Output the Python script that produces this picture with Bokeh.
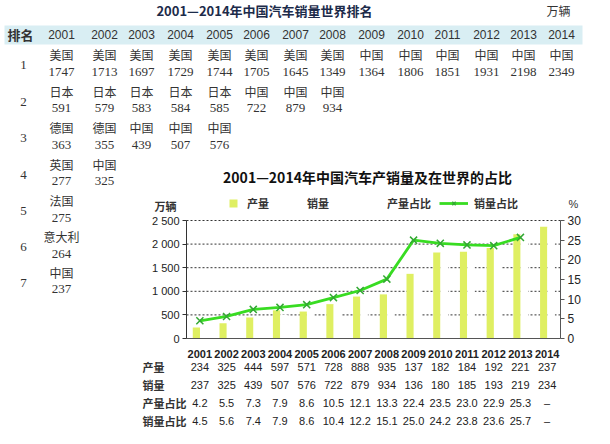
from bokeh.plotting import figure
from bokeh.models import (ColumnDataSource, Legend, LegendItem, LinearAxis, Range1d, FixedTicker)
from bokeh.transform import dodge
from bokeh.embed import file_html
from bokeh.resources import INLINE
from bokeh.core.properties import value

# ---------------- data ----------------
years = list(range(2001, 2015))

rank_names = ["1", "2", "3", "4", "5", "6", "7"]
rank_countries = [
    ["美国", "日本", "德国", "英国", "法国", "意大利", "中国"],
    ["美国", "日本", "德国", "中国"],
    ["美国", "日本", "中国"],
    ["美国", "日本", "中国"],
    ["美国", "日本", "中国"],
    ["美国", "中国"],
    ["美国", "中国"],
    ["美国", "中国"],
    ["中国"], ["中国"], ["中国"], ["中国"], ["中国"], ["中国"],
]
rank_values = [
    [1747, 591, 363, 277, 275, 264, 237],
    [1713, 579, 355, 325],
    [1697, 583, 439],
    [1729, 584, 507],
    [1744, 585, 576],
    [1705, 722],
    [1645, 879],
    [1349, 934],
    [1364], [1806], [1851], [1931], [2198], [2349],
]

prod_bar = [234, 325, 444, 597, 571, 728, 888, 935, 1370, 1820, 1840, 1920, 2210, 2370]
sales_bar = [237, 325, 439, 507, 576, 722, 879, 934, 1364, 1806, 1851, 1931, 2198, 2349]
share_years = list(range(2001, 2014))
prod_share = [4.2, 5.5, 7.3, 7.9, 8.6, 10.5, 12.1, 13.3, 22.4, 23.5, 23.0, 22.9, 25.3]
sales_share = [4.5, 5.6, 7.4, 7.9, 8.6, 10.4, 12.2, 15.1, 25.0, 24.2, 23.8, 23.6, 25.7]

table_rows = ["产量", "销量", "产量占比", "销量占比"]
prod_row = ["234", "325", "444", "597", "571", "728", "888", "935", "137", "182", "184", "192", "221", "237"]
sales_row = ["237", "325", "439", "507", "576", "722", "879", "934", "136", "180", "185", "193", "219", "234"]
prod_share_row = ["4.2", "5.5", "7.3", "7.9", "8.6", "10.5", "12.1", "13.3", "22.4", "23.5", "23.0", "22.9", "25.3", "–"]
sales_share_row = ["4.5", "5.6", "7.4", "7.9", "8.6", "10.4", "12.2", "15.1", "25.0", "24.2", "23.8", "23.6", "25.7", "–"]

left_ticks = [0, 500, 1000, 1500, 2000, 2500]
left_tick_labels = ["0", "500", "1 000", "1 500", "2 000", "2 500"]
right_ticks = [0, 5, 10, 15, 20, 25, 30]

# ---------------- layout constants (canvas px, page margin removed) ----------------
W, H = 594, 428
OFF = 8
FL, FR, FB, FT = 186, 560, 338, 220          # chart plot area inside the canvas
col_x = [69, 112, 149, 188, 227, 264, 303, 340, 379, 418, 455, 494, 531, 569]
country_y = [62, 98.5, 135, 171.5, 208, 244, 279.5]

CJK = "Noto Sans CJK SC"
YELLOW = "#dfef62"
GREEN = "#38dc22"

x_lo, x_hi = years[0] - 0.5, years[-1] + 0.5
ppx = (FR - FL) / (x_hi - x_lo)
ppy = (FB - FT) / left_ticks[-1]
ppp = (FB - FT) / right_ticks[-1]

p = figure(width=W, height=H, output_backend="svg", toolbar_location=None,
           x_axis_location=None, y_axis_location=None,
           x_range=Range1d(x_lo - FL / ppx, x_hi + (W - FR) / ppx),
           y_range=Range1d(-(H - FB) / ppy, left_ticks[-1] + FT / ppy),
           min_border=0, min_border_left=0, min_border_right=0, min_border_top=0, min_border_bottom=0)
p.outline_line_color = None
p.background_fill_color = "white"
p.border_fill_color = "white"
p.grid.visible = False
p.extra_y_ranges = {"pct": Range1d(-(H - FB) / ppp, right_ticks[-1] + FT / ppp),
                    "cy": Range1d(H, 0)}
p.extra_x_ranges = {"cx": Range1d(0, W)}

# ---------------- axes ----------------
xa = LinearAxis(ticker=FixedTicker(ticks=years), fixed_location=0, bounds=(x_lo, x_hi))
xa.major_tick_line_color = None
xa.minor_tick_line_color = None
xa.axis_line_color = "#555555"
xa.major_label_standoff = 5
xa.major_label_text_font = "Liberation Sans"
xa.major_label_text_font_size = "11px"
xa.major_label_text_font_style = "bold"
xa.major_label_text_color = "#222222"
p.add_layout(xa, "below")

ya = LinearAxis(ticker=FixedTicker(ticks=left_ticks), fixed_location=x_lo, bounds=(0, left_ticks[-1]))
ya.major_label_overrides = {t: s for t, s in zip(left_ticks, left_tick_labels)}
ya.minor_tick_line_color = None
ya.major_tick_in = 0
ya.major_tick_out = 4
ya.axis_line_color = "#333333"
ya.major_tick_line_color = "#333333"
ya.major_label_standoff = 3
ya.major_label_text_font = "Liberation Sans"
ya.major_label_text_font_size = "11px"
ya.major_label_text_color = "#222222"
p.add_layout(ya, "left")

ra = LinearAxis(y_range_name="pct", ticker=FixedTicker(ticks=right_ticks), fixed_location=x_hi,
                bounds=(0, right_ticks[-1]))
ra.minor_tick_line_color = None
ra.major_tick_in = 0
ra.major_tick_out = 4
ra.axis_line_color = "#555555"
ra.major_tick_line_color = "#555555"
ra.major_label_standoff = 3
ra.major_label_text_font = "Liberation Sans"
ra.major_label_text_font_size = "12px"
ra.major_label_text_color = "#222222"
p.add_layout(ra, "right")

# ---------------- header band & ranking table ----------------
p.quad(left=[12 - OFF], right=[590 - OFF], top=[33 - OFF], bottom=[52 - OFF],
       x_range_name="cx", y_range_name="cy", fill_color="#d9eef3", line_color=None)

def txt(xs, ys, texts, size, font, align="center", style="normal", color="#222222", xr="cx"):
    kw = dict(x_range_name=xr) if xr else {}
    p.text(x=xs, y=ys, text=texts, y_range_name="cy", text_align=align, text_baseline="middle",
           text_font=value(font), text_font_size=size, text_font_style=style, text_color=color, **kw)

txt([272 - OFF], [18 - OFF], ["2001—2014年中国汽车销量世界排名"], "13px", CJK, style="bold", color="#1c2b4a")
txt([566 - OFF], [18 - OFF], ["万辆"], "12px", CJK, color="#333333")
txt([28 - OFF], [42 - OFF], ["排名"], "13px", CJK, style="bold", color="#333333")
txt([c - OFF for c in col_x], [42 - OFF] * len(years), [str(y) for y in years], "12px",
    "Liberation Sans", color="#333333")
txt([31 - OFF] * len(rank_names), [cy + 10.5 - OFF for cy in country_y], rank_names, "13px",
    "Liberation Serif", color="#333333")

cx, cyy, ct, ny, nt = [], [], [], [], []
for i, (cs, vs) in enumerate(zip(rank_countries, rank_values)):
    for j, (c, v) in enumerate(zip(cs, vs)):
        cx.append(col_x[i] - OFF); cyy.append(country_y[j] - OFF); ct.append(c)
        ny.append(country_y[j] + 17 - OFF); nt.append(str(v))
txt(cx, cyy, ct, "12px", CJK, color="#333333")
txt(cx, ny, nt, "13px", "Liberation Serif", color="#333333")

# ---------------- chart ----------------
p.segment(x0=[x_lo] * (len(left_ticks) - 1), x1=[x_hi] * (len(left_ticks) - 1),
          y0=left_ticks[1:], y1=left_ticks[1:], line_color="#333333", line_dash="2 2", line_width=1)

bar_src = ColumnDataSource(dict(x=years, prod=prod_bar, sales=sales_bar))
r_prod = p.vbar(x=dodge("x", -0.13), top="prod", width=0.27, source=bar_src,
                fill_color=YELLOW, line_color=None)
r_sales = p.vbar(x=dodge("x", 0.15), top="sales", width=0.28, source=bar_src,
                 fill_color="white", line_color=None)

share_src = ColumnDataSource(dict(x=share_years, prod=prod_share, sales=sales_share))
r_pshare = p.line("x", "prod", source=share_src, y_range_name="pct", line_color="white",
                  line_alpha=0, line_width=2)
r_sline = p.line("x", "sales", source=share_src, y_range_name="pct", line_color=GREEN, line_width=2.8)
r_smark = p.scatter("x", "sales", source=share_src, y_range_name="pct", marker="x", size=10,
                    line_color="#33a833", line_width=1.5)

def add_leg(label, renderers, left_ref, gw, gh, standoff):
    lg = Legend(items=[LegendItem(label=label, renderers=renderers)],
                location=(left_ref - OFF, H - (212 - OFF) - 7),
                orientation="horizontal", padding=0, margin=0, spacing=0,
                glyph_width=gw, glyph_height=gh, label_standoff=standoff,
                label_height=12, label_width=10,
                border_line_alpha=0, background_fill_alpha=0,
                label_text_font=CJK, label_text_font_size="11px",
                label_text_font_style="bold", label_text_color="#333333")
    p.add_layout(lg)

add_leg("产量", [r_prod], 236, 10, 10, 9)
add_leg("销量", [r_sales], 296, 10, 10, 9)
add_leg("产量占比", [r_pshare], 363, 26, 12, 6)
add_leg("销量占比", [r_sline, r_smark], 447, 29, 12, 6)

txt([375 - OFF], [184 - OFF], ["2001—2014年中国汽车产销量及在世界的占比"], "14px", CJK, style="bold",
    color="#111111")
txt([173 - OFF], [213 - OFF], ["万辆"], "11px", CJK, style="bold", color="#333333")
txt([581 - OFF], [211 - OFF], ["%"], "11px", "Liberation Sans", color="#333333")

# bottom data table
row_y = [374, 392, 410, 428]
txt([150 - OFF] * 4, [r - OFF for r in row_y], table_rows, "11px", CJK, align="left", style="bold",
    color="#333333")
for vals, yy in zip([prod_row, sales_row, prod_share_row, sales_share_row], row_y):
    txt(years, [yy - OFF] * len(years), vals, "11px", "Liberation Sans", color="#222222", xr=None)

open("out.html", "w").write(file_html(p, INLINE))
